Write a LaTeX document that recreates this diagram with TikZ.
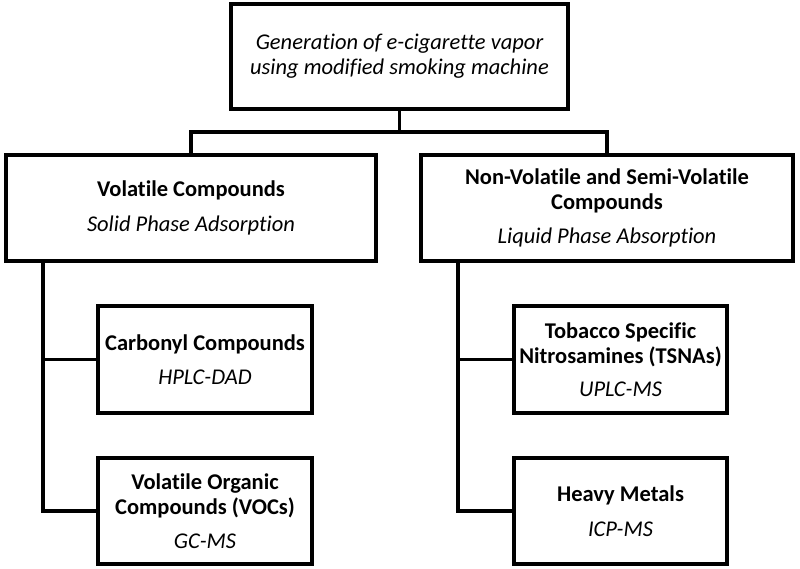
\documentclass[tikz,border=0pt]{standalone}
\usepackage{fontspec}
\setmainfont{Carlito}[Ligatures=NoCommon]
\begin{document}
\begin{tikzpicture}[x=1pt,y=-1pt,
  box/.style={draw, line width=3.2pt, rectangle, align=center, inner sep=0pt,
    font=\fontsize{22.5}{25}\selectfont},
  conn/.style={line width=3.2pt}]
\useasboundingbox (0,0) rectangle (800,569);
\node[box, minimum width=337pt, minimum height=105pt] (top) at (399.5,56.5)
  {\itshape Generation of e-cigarette vapor\\\itshape using modified smoking machine};
\node[box, minimum width=370pt, minimum height=106pt] (left) at (191,208)
  {\bfseries Volatile Compounds\\[10pt]\itshape Solid Phase Adsorption};
\node[box, minimum width=372pt, minimum height=106pt] (right) at (607,208)
  {\bfseries Non-Volatile and Semi-Volatile\\\bfseries Compounds\\[9pt]\itshape Liquid Phase Absorption};
\node[box, minimum width=214pt, minimum height=107pt] (carb) at (205,359.5)
  {\bfseries Carbonyl Compounds\\[9pt]\itshape HPLC-DAD};
\node[box, minimum width=214pt, minimum height=106pt] (voc) at (205,511)
  {\bfseries Volatile Organic\\\bfseries Compounds (VOCs)\\[9pt]\itshape GC-MS};
\node[box, minimum width=213pt, minimum height=107pt] (tsna) at (620.5,359.5)
  {\bfseries Tobacco Specific\\\bfseries Nitrosamines (TSNAs)\\[8pt]\itshape UPLC-MS};
\node[box, minimum width=213pt, minimum height=106pt] (metal) at (620.5,511)
  {\bfseries Heavy Metals\\[10pt]\itshape ICP-MS};
\coordinate (jy) at (0,132);
\coordinate (j) at (top.south |- jy);
\draw[conn] (top.south) -- (j);
\draw[conn] (left.north) |- (j) -| (right.north);
\coordinate (lt) at (43,261);
\coordinate (rt) at (458,261);
\draw[conn] (lt) |- (voc.west);
\draw[conn] (lt |- carb.west) -- (carb.west);
\draw[conn] (rt) |- (metal.west);
\draw[conn] (rt |- tsna.west) -- (tsna.west);
\end{tikzpicture}
\end{document}
